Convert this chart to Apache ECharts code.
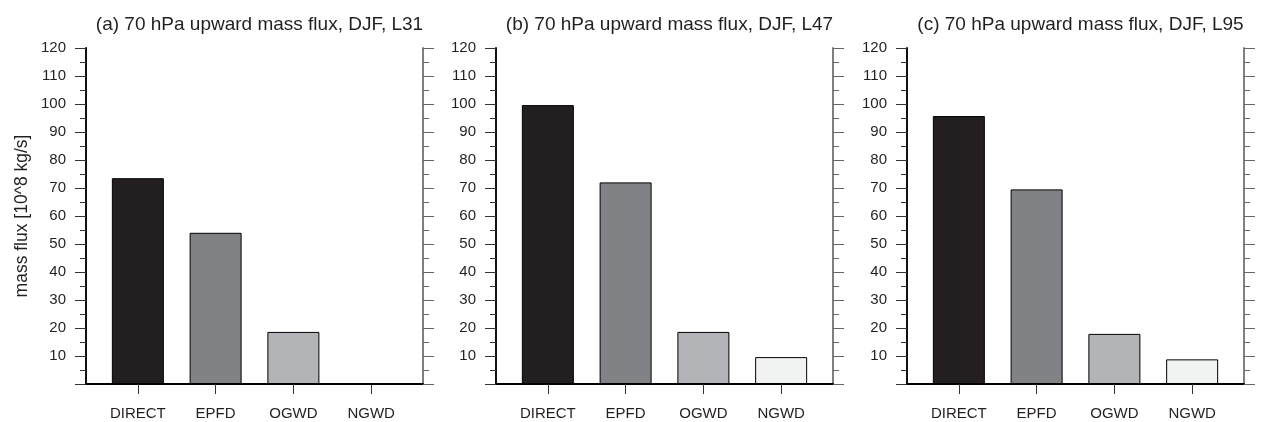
<!DOCTYPE html>
<html>
<head>
<meta charset="utf-8">
<script src="https://cdn.jsdelivr.net/npm/echarts@6/dist/echarts.min.js"></script>
<style>
html,body{margin:0;padding:0;background:#fff;}
#chart{width:1264px;height:422px;}
</style>
</head>
<body>
<div id="chart"></div>
<script>
var categories = ['DIRECT', 'EPFD', 'OGWD', 'NGWD'];
var barColors = ['#231f20', '#808285', '#b3b4b7', '#f1f2f2'];
var panelTitles = [
  '(a) 70 hPa upward mass flux, DJF, L31',
  '(b) 70 hPa upward mass flux, DJF, L47',
  '(c) 70 hPa upward mass flux, DJF, L95'
];
var valuesL31 = [73.5, 54.0, 18.6, 0];
var valuesL47 = [99.6, 72.0, 18.6, 9.6];
var valuesL95 = [95.7, 69.5, 17.9, 8.8];
var yTicks = [0, 10, 20, 30, 40, 50, 60, 70, 80, 90, 100, 110, 120];
var yAxisName = 'mass flux [10^8 kg/s]';

var panels = [valuesL31, valuesL47, valuesL95];
var gridLefts = [86, 496, 907];
var gridTop = 48, gridW = 337, gridH = 336;
var FONT = 'Liberation Sans';

var chart = echarts.init(document.getElementById('chart'));
var option = {
  animation: false,
  backgroundColor: '#fff',
  title: [], grid: [], xAxis: [], yAxis: [], series: []
};

panels.forEach(function (vals, i) {
  option.title.push({
    text: panelTitles[i],
    left: gridLefts[i] + gridW / 2,
    textAlign: 'center',
    top: 10,
    textStyle: { fontFamily: FONT, fontSize: 19, fontWeight: 'normal', color: '#231f20' }
  });
  option.grid.push({ left: gridLefts[i], top: gridTop, width: gridW, height: gridH });
  option.xAxis.push({
    type: 'value', gridIndex: i, min: 1 / 3, max: 14 / 3, position: 'bottom',
    splitLine: { show: false },
    axisLine: { show: true, lineStyle: { color: '#000', width: 2 } },
    axisTick: { show: true, length: 10, customValues: [1, 2, 3, 4], lineStyle: { color: '#333', width: 1 } },
    axisLabel: {
      customValues: [1, 2, 3, 4], margin: 22,
      fontFamily: FONT, fontSize: 15, color: '#231f20',
      formatter: function (v) { return categories[Math.round(v) - 1] || ''; }
    }
  });
  option.xAxis.push({
    type: 'value', gridIndex: i, min: 1 / 3, max: 14 / 3, position: 'top',
    splitLine: { show: false },
    axisLine: { show: true, lineStyle: { color: '#000', width: 1 } },
    axisTick: { show: false }, axisLabel: { show: false }
  });
  option.yAxis.push({
    type: 'value', gridIndex: i, min: 0, max: 120, interval: 10, position: 'left',
    name: i === 0 ? yAxisName : '',
    nameLocation: 'middle', nameGap: 55,
    nameTextStyle: { fontFamily: FONT, fontSize: 17.5, color: '#231f20' },
    splitLine: { show: false },
    axisLine: { show: true, lineStyle: { color: '#111', width: 2 } },
    axisTick: { show: true, length: 11, lineStyle: { color: '#333', width: 1 } },
    minorTick: { show: true, splitNumber: 2, length: 6, lineStyle: { color: '#333', width: 1 } },
    axisLabel: {
      margin: 20, fontFamily: FONT, fontSize: 15, color: '#231f20',
      formatter: function (v) { return v === 0 ? '' : String(v); }
    }
  });
  option.yAxis.push({
    type: 'value', gridIndex: i, min: 0, max: 120, interval: 10, position: 'right',
    splitLine: { show: false },
    axisLine: { show: true, lineStyle: { color: '#808080', width: 2 } },
    axisTick: { show: true, length: 11, lineStyle: { color: '#666', width: 1 } },
    minorTick: { show: true, splitNumber: 2, length: 6, lineStyle: { color: '#666', width: 1 } },
    axisLabel: { show: false }
  });
  option.series.push({
    type: 'bar',
    xAxisIndex: i * 2, yAxisIndex: i * 2,
    barWidth: 52,
    data: vals.map(function (v, k) {
      return {
        value: [k + 1, v],
        itemStyle: { color: barColors[k], borderColor: '#000', borderWidth: 1 }
      };
    })
  });
});

chart.setOption(option);
</script>
</body>
</html>
